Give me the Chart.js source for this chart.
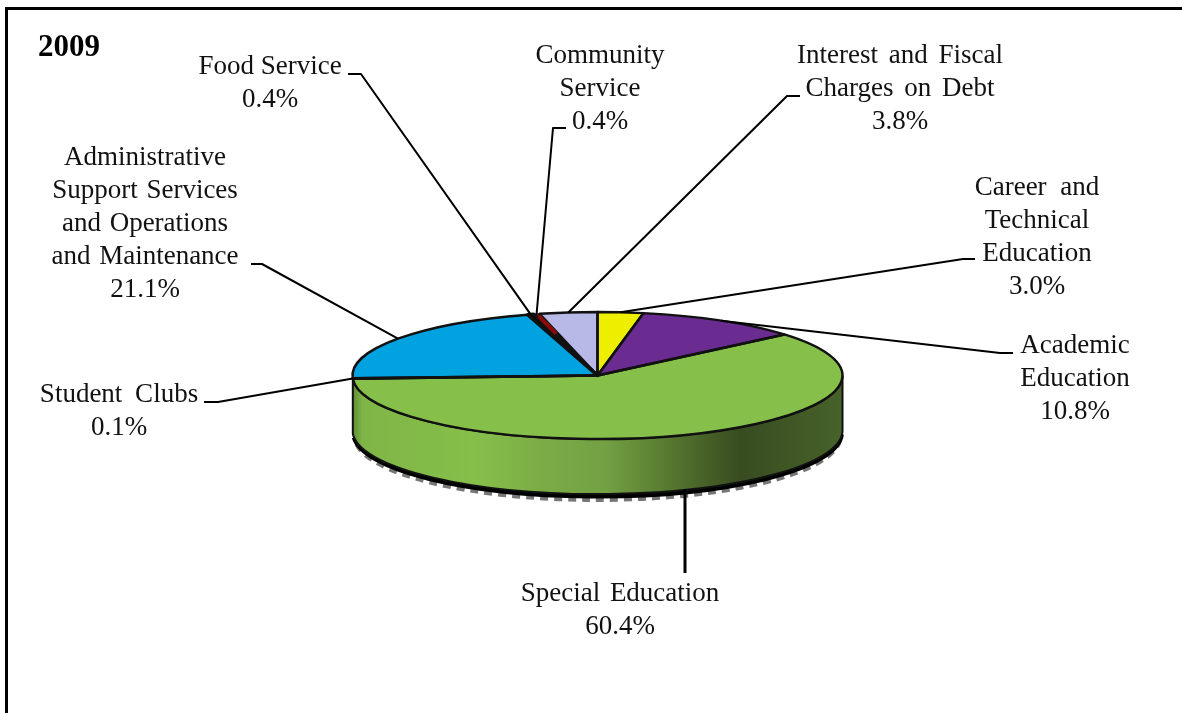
<!DOCTYPE html>
<html>
<head>
<meta charset="utf-8">
<title>2009</title>
<script src="https://cdn.jsdelivr.net/npm/chart.js@4/dist/chart.umd.min.js"></script>
<style>
    html, body { margin: 0; padding: 0; background: #fff; overflow: hidden; }
    canvas { display: block; }
</style>
</head>
<body>
<canvas id="pie3d" width="1182" height="713"></canvas>
<script>
const chartTitle = '2009';

const categories = [
    'Career and Technical Education',
    'Academic Education',
    'Special Education',
    'Student Clubs',
    'Administrative Support Services and Operations and Maintenance',
    'Food Service',
    'Community Service',
    'Interest and Fiscal Charges on Debt'
];
const shares = [3.0, 10.8, 60.4, 0.1, 21.1, 0.4, 0.4, 3.8];
const sliceColors = ['#eeee00', '#6a2c91', '#86bf4a', '#2f4a1c', '#00a3e0', '#000000', '#8b0a0a', '#b9b9e8'];

// how each label wraps, same order as categories
const labelLines = [
    ['Career and', 'Technical', 'Education'],
    ['Academic', 'Education'],
    ['Special Education'],
    ['Student Clubs'],
    ['Administrative', 'Support Services', 'and Operations', 'and Maintenance'],
    ['Food Service'],
    ['Community', 'Service'],
    ['Interest and Fiscal', 'Charges on Debt']
];

// text centre x, first baseline y, extra word space, leader line start and elbow
const callouts = [
    { x: 1037, y: 195, gap: 7, from: [975, 259], elbow: [963, 259] },
    { x: 1075, y: 353, gap: 0, from: [1013, 353], elbow: [1000, 353] },
    { x: 620, y: 601, gap: 3, from: [685, 573], elbow: null },
    { x: 119, y: 402, gap: 6, from: [204, 402], elbow: [218, 402] },
    { x: 145, y: 165, gap: 2, from: [251, 264], elbow: [262, 264] },
    { x: 270, y: 74, gap: 0, from: [348, 74], elbow: [361, 74] },
    { x: 600, y: 63, gap: 0, from: [566, 128], elbow: [553, 128] },
    { x: 900, y: 63, gap: 4, from: [800, 96], elbow: [787, 96] }
];

const pieX = 597.5, pieY = 375.5, radiusX = 245, radiusY = 63.5, wallDepth = 55;
const lineGap = 33;
const textFont = '27px "Liberation Serif"';

function arcsOf(chart) {
    return chart.getDatasetMeta(0).data;
}

function drawFrame(ctx) {
    ctx.fillStyle = '#000';
    ctx.fillRect(5, 7, 1177, 3);
    ctx.fillRect(5, 7, 3, 706);
}

function drawWall(chart) {
    const ctx = chart.ctx;
    const green = arcsOf(chart)[categories.indexOf('Special Education')];
    const start = Math.max(green.startAngle, 0);
    const end = Math.min(green.endAngle, Math.PI);

    // shadow rim under the wall, grey blocks peeking out below a black band
    ctx.strokeStyle = '#777';
    ctx.lineWidth = 4;
    ctx.setLineDash([8, 6]);
    ctx.beginPath();
    ctx.ellipse(pieX, pieY + wallDepth + 6, radiusX - 2, radiusY, 0, start + 0.05, end - 0.05);
    ctx.stroke();
    ctx.setLineDash([]);
    ctx.strokeStyle = '#000';
    ctx.lineWidth = 5;
    ctx.beginPath();
    ctx.ellipse(pieX, pieY + wallDepth + 2, radiusX - 1, radiusY, 0, start + 0.03, end - 0.03);
    ctx.stroke();

    const shade = ctx.createLinearGradient(pieX - radiusX, 0, pieX + radiusX, 0);
    shade.addColorStop(0, '#5f8a35');
    shade.addColorStop(0.02, '#7fb546');
    shade.addColorStop(0.25, '#86bf4a');
    shade.addColorStop(0.38, '#7cac46');
    shade.addColorStop(0.52, '#72a043');
    shade.addColorStop(0.65, '#55772f');
    shade.addColorStop(0.79, '#384c20');
    shade.addColorStop(1, '#47622a');
    ctx.fillStyle = shade;
    ctx.strokeStyle = '#111';
    ctx.lineWidth = 2;
    ctx.beginPath();
    ctx.ellipse(pieX, pieY, radiusX, radiusY, 0, start, end);
    ctx.ellipse(pieX, pieY + wallDepth, radiusX, radiusY, 0, end, start, true);
    ctx.closePath();
    ctx.fill();
    ctx.stroke();
}

function drawOutlines(chart) {
    const ctx = chart.ctx;
    ctx.strokeStyle = '#111';
    ctx.lineJoin = 'round';
    arcsOf(chart).forEach((arc, i) => {
        // food service is the heavy black band in the picture
        ctx.lineWidth = categories[i] === 'Food Service' ? 3.5 : categories[i] === 'Community Service' ? 1 : 2.5;
        ctx.beginPath();
        ctx.moveTo(pieX, pieY);
        ctx.ellipse(pieX, pieY, radiusX, radiusY, 0, arc.startAngle, arc.endAngle);
        ctx.closePath();
        ctx.stroke();
    });
    // red tip sits over the neighbouring outlines
    const tip = arcsOf(chart)[categories.indexOf('Community Service')];
    const mid = (tip.startAngle + tip.endAngle) / 2;
    ctx.strokeStyle = sliceColors[categories.indexOf('Community Service')];
    ctx.lineWidth = 4;
    ctx.beginPath();
    ctx.moveTo(pieX + radiusX * 0.96 * Math.cos(mid), pieY + radiusY * 0.96 * Math.sin(mid));
    ctx.lineTo(pieX + radiusX * 0.68 * Math.cos(mid), pieY + radiusY * 0.68 * Math.sin(mid));
    ctx.stroke();
}

function drawLeaders(chart) {
    const ctx = chart.ctx;
    arcsOf(chart).forEach((arc, i) => {
        const mid = (arc.startAngle + arc.endAngle) / 2;
        const onWall = Math.sin(mid) > 0.5;
        const tipX = pieX + radiusX * Math.cos(mid);
        const tipY = pieY + radiusY * Math.sin(mid) + (onWall ? wallDepth : 0);
        const c = callouts[i];
        ctx.strokeStyle = '#000';
        ctx.lineWidth = onWall ? 3 : 2;
        ctx.beginPath();
        if (onWall) {
            ctx.moveTo(c.from[0], c.from[1]);
            ctx.lineTo(c.from[0], tipY);
        } else {
            ctx.moveTo(c.from[0], c.from[1]);
            ctx.lineTo(c.elbow[0], c.elbow[1]);
            ctx.lineTo(tipX, tipY);
        }
        ctx.stroke();
    });
}

function drawLabels(ctx) {
    ctx.fillStyle = '#111';
    ctx.textAlign = 'center';
    ctx.textBaseline = 'alphabetic';
    ctx.font = textFont;
    categories.forEach((name, i) => {
        const c = callouts[i];
        ctx.wordSpacing = c.gap + 'px';
        const lines = labelLines[i].concat(shares[i].toFixed(1) + '%');
        lines.forEach((line, n) => ctx.fillText(line, c.x, c.y + n * lineGap));
    });
    ctx.wordSpacing = '0px';
    ctx.textAlign = 'left';
    ctx.font = 'bold 31px "Liberation Serif"';
    ctx.fillStyle = '#000';
    ctx.fillText(chartTitle, 38, 56);
}

// Chart.js only knows flat pies, so squash the circle and add the wall round it
const tiltPlugin = {
    id: 'tilt',
    beforeDatasetsDraw(chart) {
        const ctx = chart.ctx;
        const first = arcsOf(chart)[0];
        drawFrame(ctx);
        drawWall(chart);
        ctx.save();
        ctx.translate(pieX, pieY);
        ctx.scale(1, radiusY / radiusX);
        ctx.translate(-first.x, -first.y);
    },
    afterDatasetsDraw(chart) {
        chart.ctx.restore();
        drawOutlines(chart);
        drawLeaders(chart);
        drawLabels(chart.ctx);
    }
};

new Chart(document.getElementById('pie3d').getContext('2d'), {
    type: 'pie',
    data: {
        labels: categories,
        datasets: [{
            data: shares,
            backgroundColor: sliceColors,
            borderWidth: 0,
            radius: radiusX
        }]
    },
    options: {
        responsive: false,
        animation: false,
        rotation: 0,
        plugins: { legend: { display: false }, tooltip: { enabled: false } }
    },
    plugins: [tiltPlugin]
});
</script>
</body>
</html>
